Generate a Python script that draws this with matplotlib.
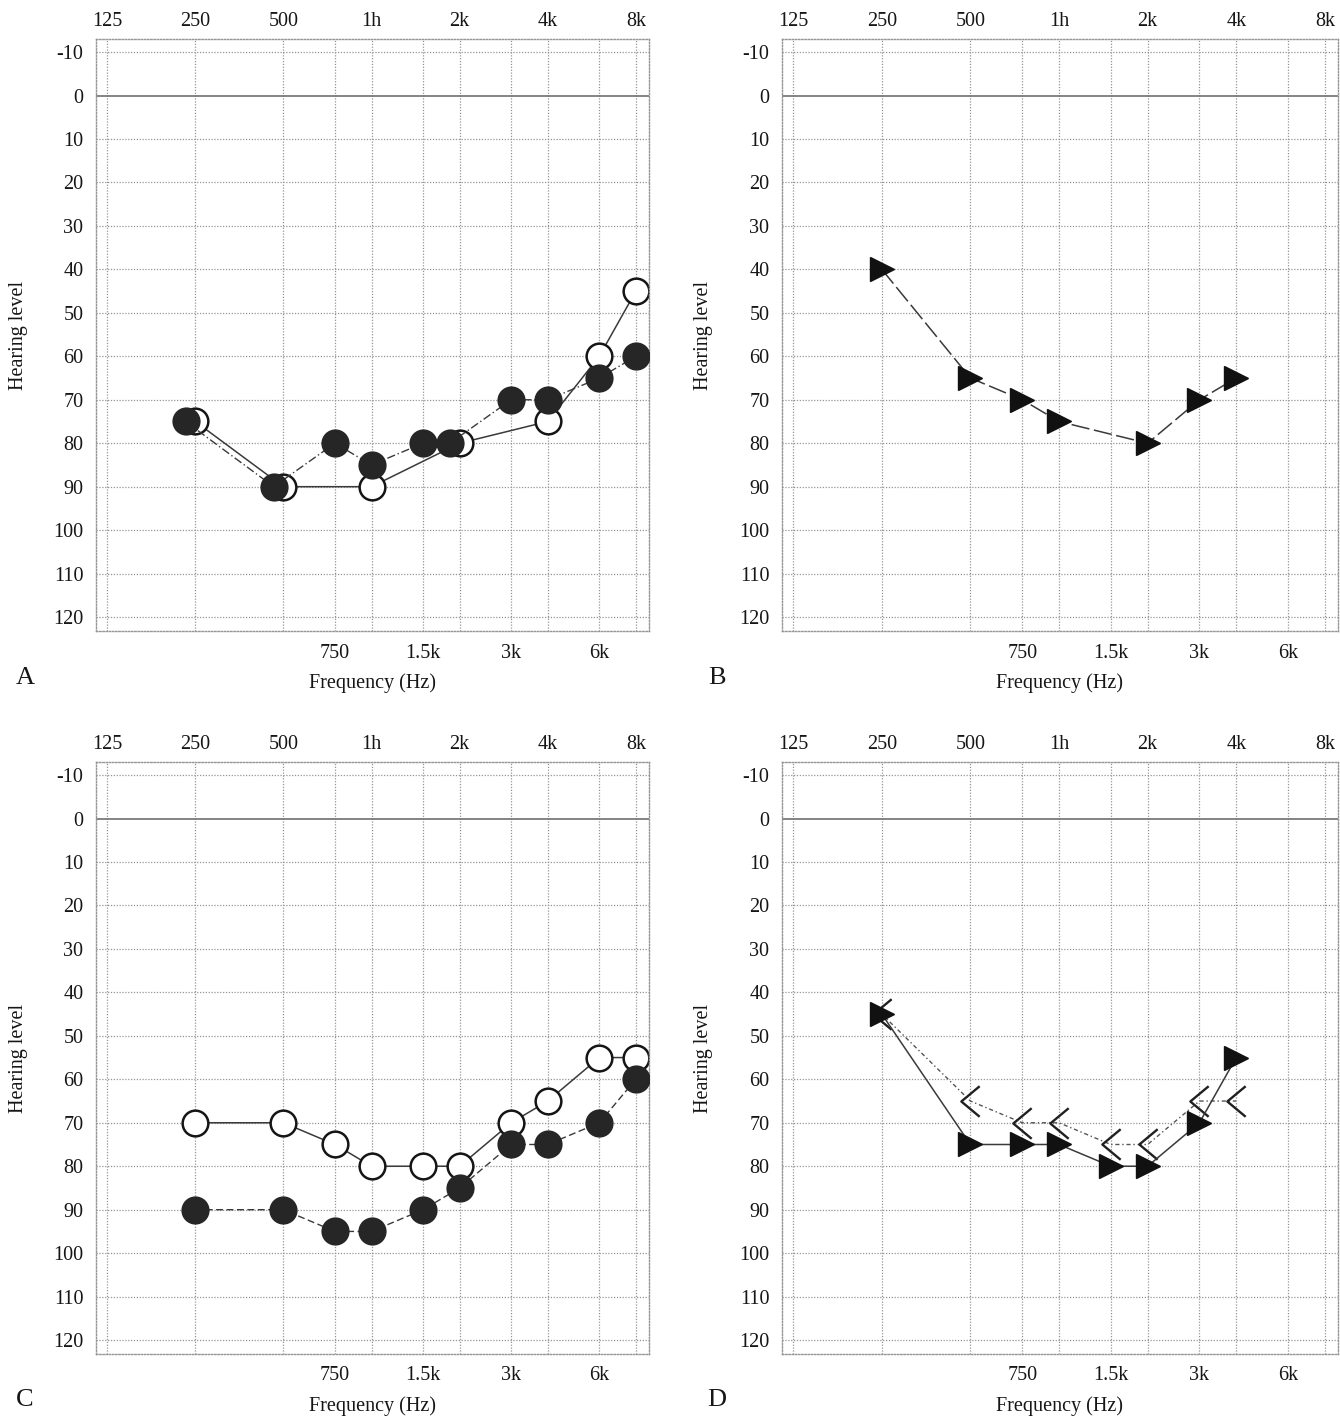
import matplotlib
matplotlib.use("Agg")
import matplotlib.pyplot as plt
from matplotlib.path import Path
from matplotlib.ticker import NullLocator

plt.rcParams['font.family'] = ['Liberation Serif', 'DejaVu Serif']

# Frequency axis (Hz): octave labels on top, mid-octave labels at the bottom
octave_freqs = [125, 250, 500, 1000, 2000, 4000, 8000]
octave_labels = ['125', '250', '500', '1h', '2k', '4k', '8k']
mid_freqs = [750, 1500, 3000, 6000]
mid_labels = ['750', '1.5k', '3k', '6k']
level_ticks = list(range(-10, 130, 10))

# Panel A: filled and open circles
a_freq = [250, 500, 750, 1000, 1500, 2000, 3000, 4000, 6000, 8000]
a_filled = [75, 90, 80, 85, 80, 80, 70, 70, 65, 60]
a_open_freq = [250, 500, 1000, 2000, 4000, 6000, 8000]
a_open = [75, 90, 90, 80, 75, 60, 45]

# Panel B: right-pointing triangles
b_freq = [250, 500, 750, 1000, 2000, 3000, 4000]
b_tri = [40, 65, 70, 75, 80, 70, 65]

# Panel C: open and filled circles
c_freq = [250, 500, 750, 1000, 1500, 2000, 3000, 4000, 6000, 8000]
c_open = [70, 70, 75, 80, 80, 80, 70, 65, 55, 55]
c_filled = [90, 90, 95, 95, 90, 85, 75, 75, 70, 60]

# Panel D: filled triangles and open "<" brackets
d_freq = [250, 500, 750, 1000, 1500, 2000, 3000, 4000]
d_tri = [45, 75, 75, 75, 80, 80, 70, 55]
d_chev = [45, 65, 70, 70, 75, 75, 65, 65]

W, H = 1340, 1418
fig = plt.figure(figsize=(W / 100, H / 100), dpi=100)

GRID = '#959595'
DOT = (0, (1, 1.3))
TXT = '#161616'
FS = 14.5


def px_axes(left, top, right, bottom):
    return fig.add_axes([left / W, 1 - bottom / H, (right - left) / W, (bottom - top) / H])


def audiogram(ax, letter, letter_xy):
    ax.set_xscale('log')
    ax.set_xlim(114.5, 8870)
    ax.set_ylim(123.2, -13.0)
    ax.set_xticks(mid_freqs)
    ax.set_xticklabels(mid_labels)
    ax.xaxis.set_minor_locator(NullLocator())
    ax.set_yticks(level_ticks)
    ax.set_yticklabels([str(v) for v in level_ticks])
    ax.tick_params(axis='x', length=0, labelsize=FS, pad=9, colors=TXT)
    ax.tick_params(axis='y', length=0, labelsize=FS, pad=9, colors=TXT)
    for s in ax.spines.values():
        s.set_linestyle(DOT)
        s.set_color(GRID)
        s.set_linewidth(1.0)

    top = ax.twiny()
    top.set_xscale('log')
    top.set_xlim(ax.get_xlim())
    top.set_xticks(octave_freqs)
    top.set_xticklabels(octave_labels)
    top.xaxis.set_minor_locator(NullLocator())
    top.tick_params(axis='x', length=0, labelsize=FS, pad=6, colors=TXT)
    for s in top.spines.values():
        s.set_visible(False)

    for f in octave_freqs + mid_freqs:
        ax.axvline(f, color=GRID, ls=DOT, lw=0.9, zorder=0.5)
    for lv in level_ticks:
        if lv == 0:
            ax.axhline(lv, color='#6f6f6f', ls='-', lw=1.2, zorder=0.5)
        else:
            ax.axhline(lv, color=GRID, ls=DOT, lw=0.9, zorder=0.5)

    ax.text(-0.141, 0.5, 'Hearing level', transform=ax.transAxes, rotation=90,
            ha='center', va='center', fontsize=FS, color=TXT)
    ax.text(0.5, -0.088, 'Frequency (Hz)', transform=ax.transAxes,
            ha='center', va='center', fontsize=FS, color=TXT)
    fig.text(letter_xy[0] / W, 1 - letter_xy[1] / H, letter, ha='center',
             va='center', fontsize=19, color=TXT)


LINE = '#3a3a3a'
FILL = '#262626'
circle_kw = dict(marker='o', markersize=18.5, markeredgewidth=1.8)

# ---- Panel A ----
axA = px_axes(96, 39, 649, 631)
audiogram(axA, 'A', (25, 678))
open_map = dict(zip(a_open_freq, a_open))
# where both ears share a threshold, nudge the filled symbol slightly left
shift = 2 ** -0.11
a_filled_x = [f * shift if open_map.get(f) == v else f for f, v in zip(a_freq, a_filled)]
axA.plot(a_open_freq, a_open, color=LINE, lw=1.1, ls='-', zorder=2,
         markerfacecolor='white', markeredgecolor='#151515', **circle_kw)
axA.plot(a_filled_x, a_filled, color=LINE, lw=1.0, ls=(0, (6, 2, 1, 2)), zorder=3,
         markerfacecolor=FILL, markeredgecolor=FILL, **circle_kw)

# ---- Panel B ----
axB = px_axes(782, 39, 1338, 631)
audiogram(axB, 'B', (717, 678))
axB.plot(b_freq, b_tri, color=LINE, lw=1.1, ls=(0, (12, 3)), marker='>',
         markersize=17.5, markerfacecolor='#111111', markeredgecolor='#111111', zorder=3)

# ---- Panel C ----
axC = px_axes(96, 762, 649, 1354)
audiogram(axC, 'C', (25, 1400))
axC.plot(c_freq, c_open, color=LINE, lw=1.1, ls='-', zorder=2,
         markerfacecolor='white', markeredgecolor='#151515', **circle_kw)
axC.plot(c_freq, c_filled, color=LINE, lw=1.0, ls=(0, (5, 2.5)), zorder=3,
         markerfacecolor=FILL, markeredgecolor=FILL, **circle_kw)

# ---- Panel D ----
axD = px_axes(782, 762, 1338, 1354)
audiogram(axD, 'D', (717, 1400))
chevron = Path([(0.6, 1.0), (-0.6, 0.0), (0.6, -1.0)],
               [Path.MOVETO, Path.LINETO, Path.LINETO])
axD.plot(d_freq, d_chev, color='#555555', lw=1.0, ls=(0, (3, 2, 1, 2)), marker=chevron,
         markersize=22, markerfacecolor='none', markeredgecolor='#202020',
         markeredgewidth=1.7, zorder=2)
axD.plot(d_freq, d_tri, color=LINE, lw=1.1, ls='-', marker='>', markersize=17.5,
         markerfacecolor='#111111', markeredgecolor='#111111', zorder=3)

fig.savefig('out.png', dpi=100, facecolor='white')
